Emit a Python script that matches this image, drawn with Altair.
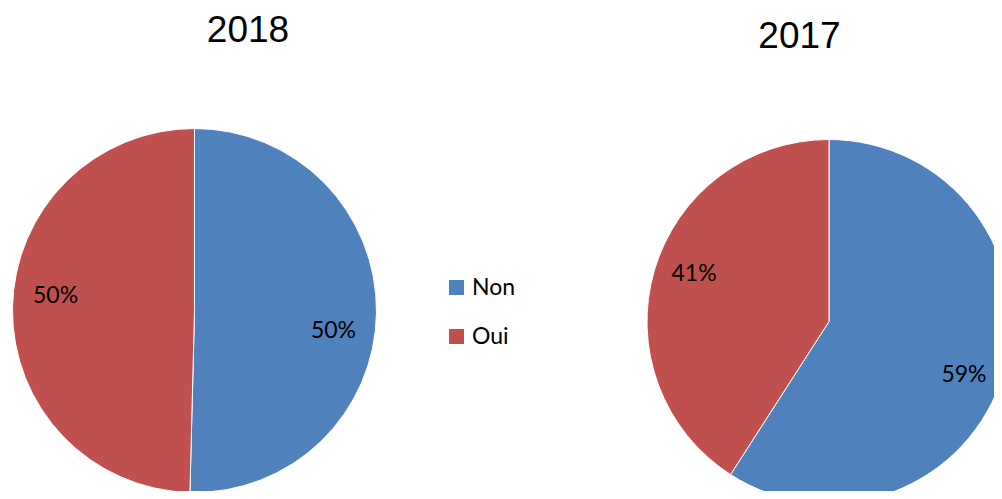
import altair as alt
import pandas as pd

years = ["2018", "2017"]
categories = ["Non", "Oui"]
values_2018 = [50.4, 49.6]
values_2017 = [59.1, 40.9]
colors = ["#4F81BD", "#C0504D"]

rows = []
for yr, vals in zip(years, [values_2018, values_2017]):
    for i, (c, v) in enumerate(zip(categories, vals)):
        rows.append({"year": yr, "category": c, "value": v, "order": i})
df = pd.DataFrame(rows)
titles_df = pd.DataFrame({"year": years})

LABEL_FONT = "Lato"

color = alt.Color(
    "category:N",
    scale=alt.Scale(domain=categories, range=colors),
    legend=alt.Legend(
        title=None,
        orient="none",
        legendX=437,
        legendY=268,
        direction="vertical",
        symbolType="square",
        symbolSize=225,
        symbolStrokeWidth=0,
        symbolOpacity=1,
        labelFont=LABEL_FONT,
        labelFontSize=23,
        labelColor="#000000",
        labelOffset=4,
        rowPadding=25,
        padding=0,
    ),
)

theta = alt.Theta("value:Q", stack=True)
order = alt.Order("order:Q")

base = alt.Chart(df).transform_calculate(
    label="format(datum.value / 100, '.0%')"
)

centers = {"2018": (186.5, 302.5), "2017": (821, 313.5)}
label_r = {"2018": 140, "2017": 144}
label_off = {"2018": 0.11, "2017": 0.07}

layers = []
for yr in years:
    cx, cy = centers[yr]
    sub = base.transform_filter(alt.datum.year == yr)
    pie = sub.mark_arc(outerRadius=182, stroke="white", strokeWidth=1).encode(
        theta=theta, color=color, order=order,
        x=alt.value(cx), y=alt.value(cy),
    )
    txt = sub.mark_text(
        radius=label_r[yr], thetaOffset=label_off[yr], dy=3,
        font=LABEL_FONT, fontSize=23, color="#000000",
    ).encode(
        theta=theta, order=order, text="label:N",
        x=alt.value(cx), y=alt.value(cy),
    )
    layers += [pie, txt]

title_pos = {"2018": (240, 34), "2017": (791.5, 40)}
for yr in years:
    tx, ty = title_pos[yr]
    t = alt.Chart(titles_df).transform_filter(alt.datum.year == yr).mark_text(
        font="Liberation Sans", fontSize=37, color="#000000",
        align="center", baseline="alphabetic",
    ).encode(text="year:N", x=alt.value(tx), y=alt.value(ty))
    layers.append(t)

chart = alt.layer(*layers).properties(
    width=986, height=483,
    autosize=alt.AutoSizeParams(type="none"),
    padding=0,
).configure_view(stroke=None)

chart.save("out.html", embed_options={"renderer": "svg", "actions": False})
